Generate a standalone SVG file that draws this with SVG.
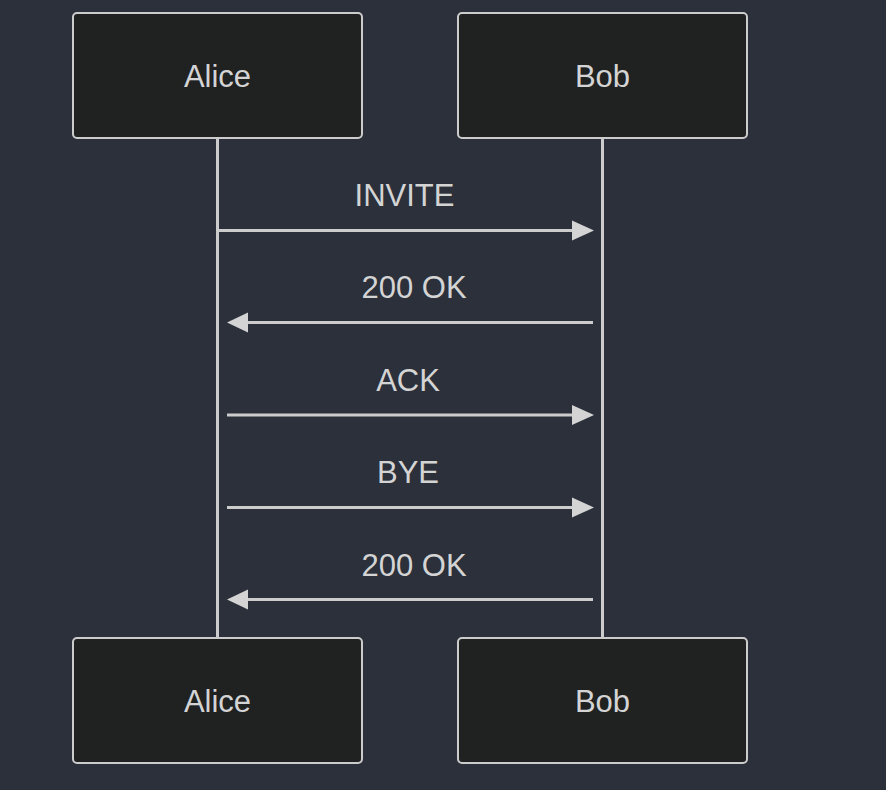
<svg xmlns="http://www.w3.org/2000/svg" width="886" height="790" viewBox="0 0 886 790">
<style>
.actor rect{fill:#202121;stroke:#cccccc;stroke-width:2}
.actor text,.msg text{font-family:"Liberation Sans",Arial,sans-serif;font-size:31px;fill:#d4d4d4;text-anchor:middle}
.life{stroke:#cccccc;stroke-width:3}
.msg line{stroke:#cccccc;stroke-width:3}
.head{fill:#d4d4d4}
</style>
<rect width="886" height="790" fill="#2b303b"/>
<g id="lifelines">
<line class="life" x1="217.5" y1="138" x2="217.5" y2="638"/>
<line class="life" x1="602.5" y1="138" x2="602.5" y2="638"/>
</g>
<g id="alice-top" class="actor"><rect x="73" y="13" width="289" height="125" rx="4"/><text x="217.5" y="87">Alice</text></g>
<g id="bob-top" class="actor"><rect x="458" y="13" width="289" height="125" rx="4"/><text x="602.5" y="87">Bob</text></g>
<g id="alice-bottom" class="actor"><rect x="73" y="638" width="289" height="125" rx="4"/><text x="217.5" y="712">Alice</text></g>
<g id="bob-bottom" class="actor"><rect x="458" y="638" width="289" height="125" rx="4"/><text x="602.5" y="712">Bob</text></g>
<g id="connectors">
<g class="msg"><line x1="219" y1="230.5" x2="575" y2="230.5"/><polygon class="head" points="572,220.5 594,230.5 572,240.5"/><text x="404.5" y="206">INVITE</text></g>
<g class="msg"><line x1="593" y1="322.5" x2="245" y2="322.5"/><polygon class="head" points="248,312.5 227,322.5 248,332.5"/><text x="414" y="298">200 OK</text></g>
<g class="msg"><line x1="227" y1="415" x2="575" y2="415"/><polygon class="head" points="572,405 594,415 572,425"/><text x="408" y="391">ACK</text></g>
<g class="msg"><line x1="227" y1="507.5" x2="575" y2="507.5"/><polygon class="head" points="572,497.5 594,507.5 572,517.5"/><text x="408" y="483">BYE</text></g>
<g class="msg"><line x1="593" y1="599.5" x2="245" y2="599.5"/><polygon class="head" points="248,589.5 227,599.5 248,609.5"/><text x="414" y="575.5">200 OK</text></g>
</g>
</svg>
